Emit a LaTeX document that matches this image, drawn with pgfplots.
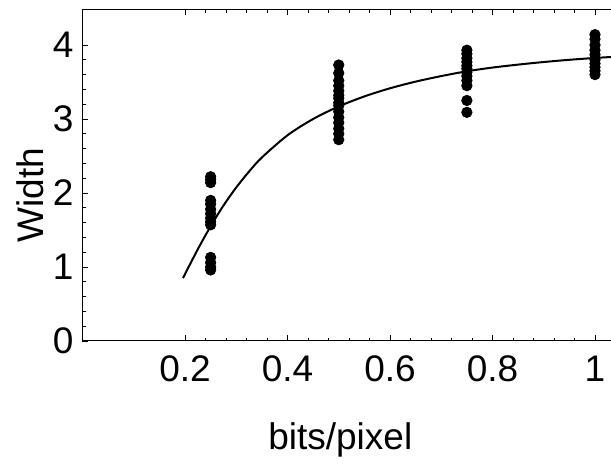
\documentclass[border=0pt]{standalone}
\usepackage{pgfplots}
\pgfplotsset{compat=1.18}
\usepackage{fontspec}
\setmainfont{Liberation Sans}
\begin{document}
\begin{tikzpicture}
\begin{axis}[
  at={(0,0)}, anchor=south west,
  scale only axis,
  width=269.06pt, height=165.76pt,
  xmin=0, xmax=1.05, ymin=0, ymax=4.48,
  axis line style={line width=0.5pt},
  xtick={0.2,0.4,0.6,0.8,1}, ytick={0,1,2,3,4},
  minor tick num=4,
  tick align=inside,
  xtick pos=both, ytick pos=both,
  major tick length=2.8pt, minor tick length=1.6pt,
  tick style={black, line width=0.4pt},
  /pgf/number format/assume math mode=true,
  ticklabel style={font=\fontsize{18.5}{20}\selectfont},
  xticklabel style={yshift=-4pt},
  yticklabel style={xshift=-1pt},
  xlabel={bits/pixel}, ylabel={Width},
  label style={font=\fontsize{18.5}{20}\selectfont},
  xlabel style={at={(axis description cs:0.479,-0.298)}, anchor=center},
  ylabel style={at={(axis description cs:-0.0976,0.44)}, anchor=center, rotate=0},
  clip=false,
]
\addplot[only marks, mark=*, mark size=2.6pt, black] coordinates {
 (0.25,2.22) (0.25,2.18) (0.25,2.14)
 (0.25,1.90) (0.25,1.85) (0.25,1.78) (0.25,1.72) (0.25,1.66) (0.25,1.61) (0.25,1.57)
 (0.25,1.13) (0.25,1.06) (0.25,1.00) (0.25,0.96)
 (0.5,3.73) (0.5,3.62) (0.5,3.52) (0.5,3.45) (0.5,3.38) (0.5,3.32) (0.5,3.28)
 (0.5,3.22) (0.5,3.18) (0.5,3.10) (0.5,3.02) (0.5,2.95) (0.5,2.87) (0.5,2.80) (0.5,2.72)
 (0.75,3.93) (0.75,3.88) (0.75,3.82) (0.75,3.77) (0.75,3.72) (0.75,3.68) (0.75,3.63)
 (0.75,3.58) (0.75,3.52) (0.75,3.45) (0.75,3.25) (0.75,3.09)
 (1,4.14) (1,4.08) (1,4.00) (1,3.93) (1,3.87) (1,3.80) (1,3.75) (1,3.70) (1,3.65) (1,3.60)
};
\addplot[black, line width=1pt, smooth, tension=0.5] coordinates {
 (0.196,0.85) (0.225,1.24) (0.25,1.55) (0.275,1.83) (0.3,2.075) (0.325,2.29)
 (0.35,2.48) (0.4,2.78) (0.45,3.00) (0.5,3.17) (0.55,3.305) (0.6,3.415)
 (0.65,3.505) (0.7,3.58) (0.75,3.645) (0.8,3.695) (0.85,3.735) (0.9,3.77)
 (0.95,3.80) (1.0,3.825) (1.05,3.845)
};
\end{axis}
\pgfresetboundingbox
\useasboundingbox (-41.25pt,-61.5pt) rectangle (264.25pt,170.5pt);
\end{tikzpicture}
\end{document}
